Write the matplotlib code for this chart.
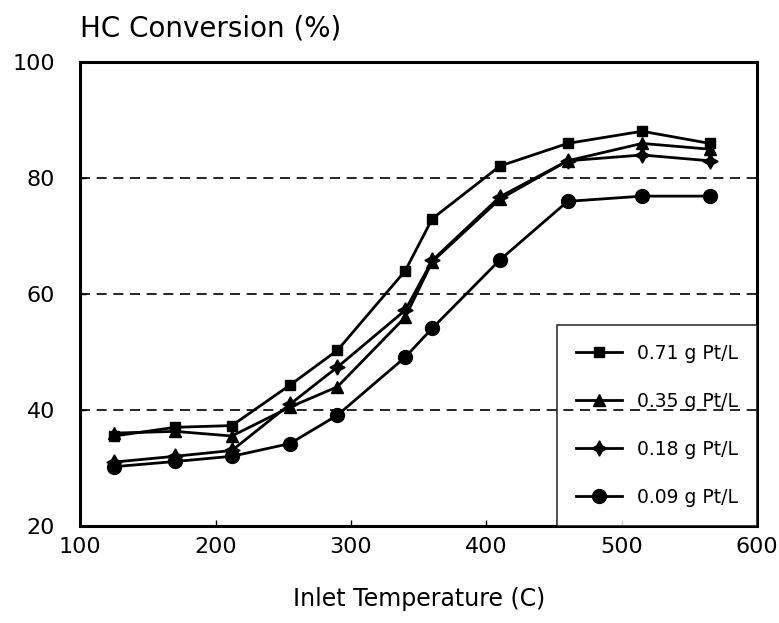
import matplotlib
matplotlib.use("Agg")
import matplotlib.pyplot as plt

temps = [125, 170, 212, 255, 290, 340, 360, 410, 460, 515, 565]
pt071 = [35.5, 37.0, 37.3, 44.3, 50.3, 64.0, 73.0, 82.1, 86.0, 88.1, 86.0]
pt035 = [36.0, 36.3, 35.5, 40.5, 44.0, 56.0, 65.6, 76.4, 83.0, 86.0, 85.0]
pt018 = [31.0, 32.0, 33.0, 41.0, 47.4, 57.2, 65.8, 76.8, 83.0, 84.0, 83.0]
pt009 = [30.2, 31.1, 32.0, 34.2, 39.1, 49.1, 54.1, 65.9, 76.0, 76.9, 76.9]
labels = ["0.71 g Pt/L", "0.35 g Pt/L", "0.18 g Pt/L", "0.09 g Pt/L"]
xticks = [100, 200, 300, 400, 500, 600]
yticks = [20, 40, 60, 80, 100]
gridvals = [40, 60, 80]

fig = plt.figure(figsize=(7.79, 6.23), dpi=100)
ax = fig.add_axes([0.103, 0.156, 0.869, 0.744])

series = [pt071, pt035, pt018, pt009]
markers = ["s", "^", (4, 1, 0), "o"]
msizes = [7, 8, 11, 10]
for vals, lab, mk, ms in zip(series, labels, markers, msizes):
    ax.plot(temps, vals, color="black", lw=2.0, marker=mk, ms=ms,
            label=lab, zorder=5)

for g in gridvals:
    ax.axhline(g, color="black", lw=1.2, ls=(0, (6, 4)), zorder=10)

ax.set_xlim(100, 600)
ax.set_ylim(20, 100)
ax.set_xticks(xticks)
ax.set_yticks(yticks)
ax.tick_params(direction="in", length=4, labelsize=16, width=1)
ax.tick_params(axis="y", pad=18)
ax.tick_params(axis="x", pad=8)
for s in ax.spines.values():
    s.set_linewidth(2.2)

leg = ax.legend(loc="lower right", fontsize=13.5, frameon=True, fancybox=False,
                edgecolor="black", handlelength=2.5, labelspacing=1.55,
                borderpad=1.0, handletextpad=0.8, borderaxespad=0.0)
leg.get_frame().set_linewidth(1.2)
leg.set_zorder(8)

fig.text(0.103, 0.955, "HC Conversion (%)", fontsize=20, ha="left", va="center")
ax.set_xlabel("Inlet Temperature (C)", fontsize=17, labelpad=22)

fig.savefig("out.png", dpi=100)
